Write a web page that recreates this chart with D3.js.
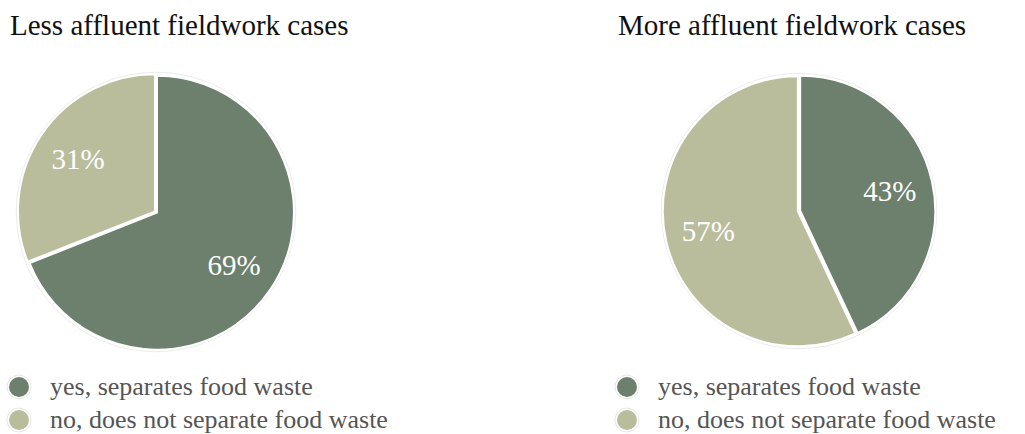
<!DOCTYPE html>
<html>
<head>
<meta charset="utf-8">
<script src="https://cdn.jsdelivr.net/npm/d3@7"></script>
<style>
  html, body { margin: 0; padding: 0; background: #fff; }
  svg { display: block; }
</style>
</head>
<body>
<svg id="chart" width="1025" height="434"></svg>
<script>
// ---- data ----
const categories = ["yes, separates food waste", "no, does not separate food waste"];
const panelTitles = ["Less affluent fieldwork cases", "More affluent fieldwork cases"];
const lessAffluent = [69, 31];
const moreAffluent = [43, 57];
const colors = ["#6c806d", "#b9bd9c"];

// ---- layout ----
const panels = [
  { title: panelTitles[0], values: lessAffluent, titleX: 10, cx: 156, cy: 212, r: 137, legendX: 19 },
  { title: panelTitles[1], values: moreAffluent, titleX: 618, cx: 799, cy: 211, r: 135, legendX: 627 }
];
const explode = 1.2;
const svg = d3.select("#chart");
const color = d3.scaleOrdinal().domain(categories).range(colors);
const pie = d3.pie().sort(null).value(d => d.v).startAngle(0).endAngle(2 * Math.PI);

panels.forEach(p => {
  const g = svg.append("g");
  g.append("text")
    .attr("x", p.titleX).attr("y", 35)
    .attr("font-family", "'Liberation Serif', serif")
    .attr("font-size", 29)
    .attr("fill", "#111")
    .text(p.title);

  const arc = d3.arc().innerRadius(0).outerRadius(p.r);
  const labelArc = d3.arc().innerRadius(p.r * 0.68).outerRadius(p.r * 0.68);
  const data = pie(p.values.map((v, i) => ({ v, cat: categories[i] })));
  const pg = g.append("g").attr("transform", `translate(${p.cx},${p.cy})`);

  // faint outer ring
  pg.append("circle").attr("r", p.r + explode + 1.5)
    .attr("fill", "none").attr("stroke", "#ececec").attr("stroke-width", 1);

  data.forEach(d => {
    const mid = (d.startAngle + d.endAngle) / 2;
    const ox = Math.sin(mid) * explode, oy = -Math.cos(mid) * explode;
    const sg = pg.append("g").attr("transform", `translate(${ox},${oy})`);
    sg.append("path").attr("d", arc(d))
      .attr("fill", color(d.data.cat))
      .attr("stroke", "#fff").attr("stroke-width", 2).attr("stroke-linejoin", "miter");
    const c = labelArc.centroid(d);
    sg.append("text")
      .attr("x", c[0]).attr("y", c[1])
      .attr("text-anchor", "middle").attr("dominant-baseline", "central")
      .attr("font-family", "'Liberation Serif', serif")
      .attr("font-size", 29)
      .attr("fill", "#fff")
      .text(d.data.v + "%");
  });

  // legend
  const lg = g.append("g");
  categories.forEach((cat, i) => {
    const y = 387 + i * 33;
    lg.append("circle").attr("cx", p.legendX).attr("cy", y).attr("r", 12)
      .attr("fill", "#fff").attr("stroke", "#e6e6e6").attr("stroke-width", 1);
    lg.append("circle").attr("cx", p.legendX).attr("cy", y).attr("r", 10)
      .attr("fill", color(cat));
    lg.append("text")
      .attr("x", p.legendX + 31).attr("y", y + 8)
      .attr("font-family", "'Liberation Serif', serif")
      .attr("font-size", 26)
      .attr("fill", "#555")
      .text(cat);
  });
});
</script>
</body>
</html>
